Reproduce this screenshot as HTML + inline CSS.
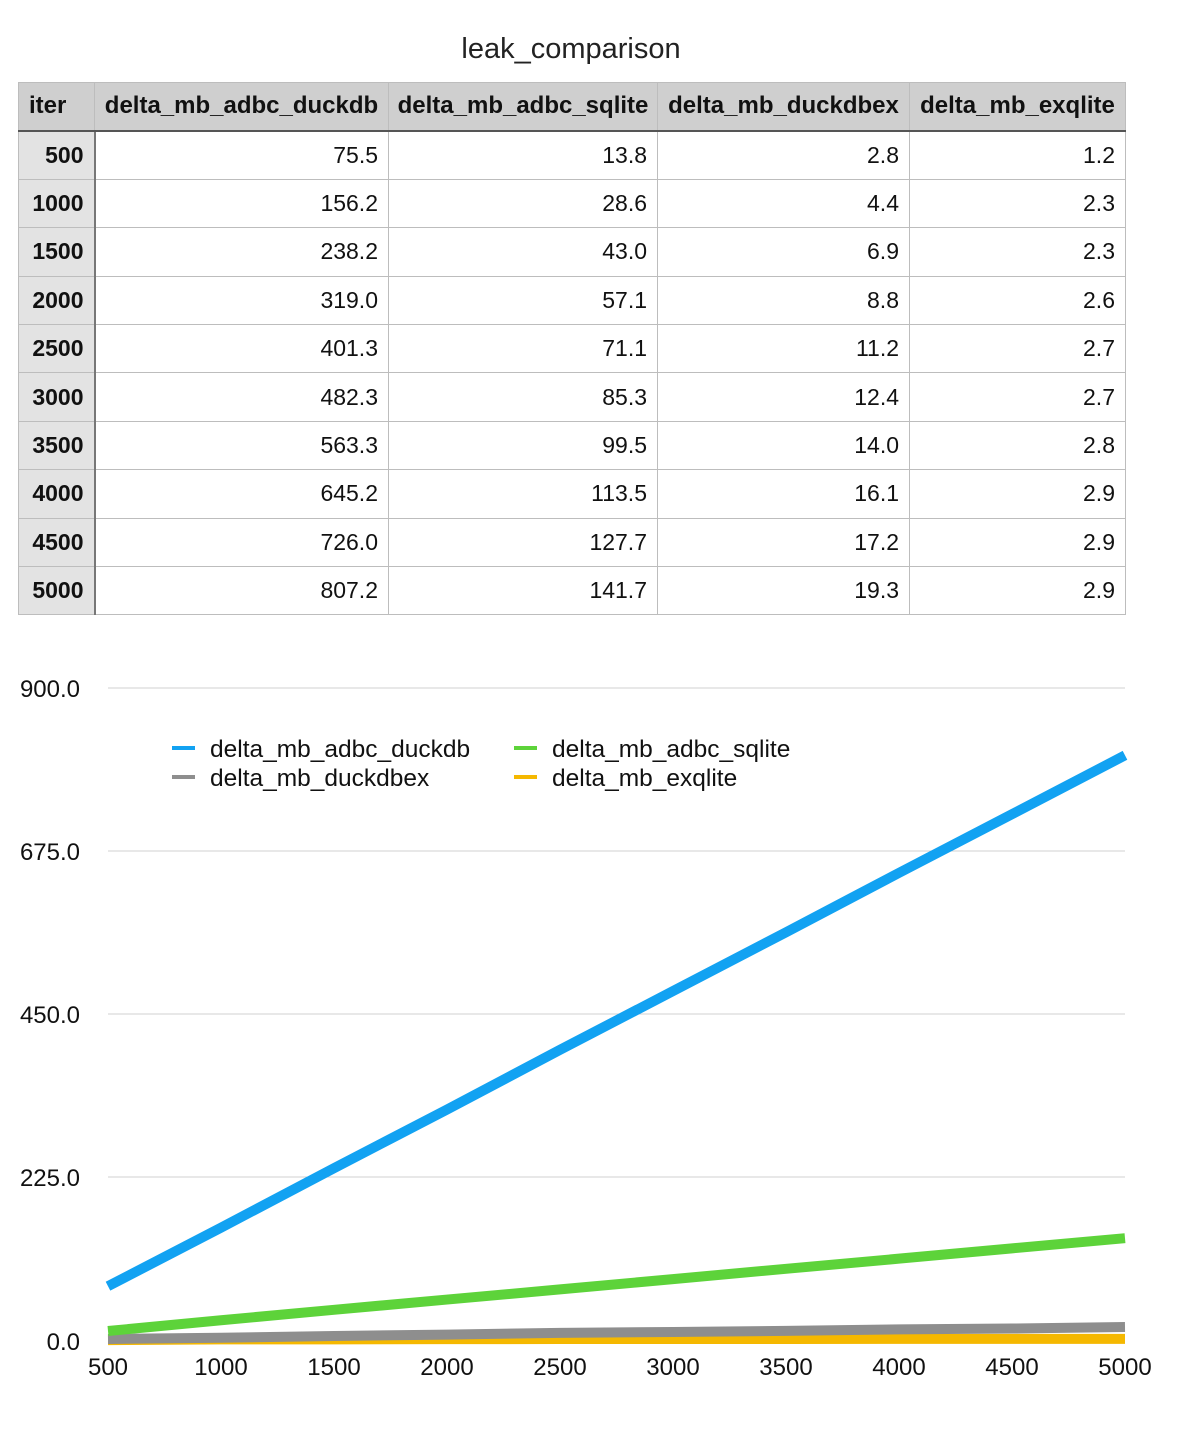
<!DOCTYPE html>
<html><head><meta charset="utf-8"><style>
body{margin:0;width:1200px;height:1437px;background:#fff;font-family:"Liberation Sans",Arial,sans-serif;position:relative;overflow:hidden}
.title{position:absolute;top:33px;left:0;width:1142px;text-align:center;font-size:29px;color:#222}
table{position:absolute;left:18px;top:82px;border-collapse:collapse;font-size:23px;color:#111;table-layout:fixed}
td,th{border:1px solid #bdbdbd;height:48.4px;padding:0 10px;text-align:right;box-sizing:border-box;white-space:nowrap}
th{background:#cfcfcf;font-weight:bold;text-align:center;border-bottom:2px solid #555;font-size:24px;padding:0 4px}
th:first-child{text-align:left;padding-left:10px}
td:first-child{background:#e3e3e3;font-weight:bold;border-right:2px solid #777}
</style></head><body>
<div class="title">leak_comparison</div>
<table>
<colgroup><col style="width:76px"><col style="width:294px"><col style="width:269px"><col style="width:252px"><col style="width:216px"></colgroup>
<tr><th>iter</th><th>delta_mb_adbc_duckdb</th><th>delta_mb_adbc_sqlite</th><th>delta_mb_duckdbex</th><th>delta_mb_exqlite</th></tr>
<tr><td>500</td><td>75.5</td><td>13.8</td><td>2.8</td><td>1.2</td></tr>
<tr><td>1000</td><td>156.2</td><td>28.6</td><td>4.4</td><td>2.3</td></tr>
<tr><td>1500</td><td>238.2</td><td>43.0</td><td>6.9</td><td>2.3</td></tr>
<tr><td>2000</td><td>319.0</td><td>57.1</td><td>8.8</td><td>2.6</td></tr>
<tr><td>2500</td><td>401.3</td><td>71.1</td><td>11.2</td><td>2.7</td></tr>
<tr><td>3000</td><td>482.3</td><td>85.3</td><td>12.4</td><td>2.7</td></tr>
<tr><td>3500</td><td>563.3</td><td>99.5</td><td>14.0</td><td>2.8</td></tr>
<tr><td>4000</td><td>645.2</td><td>113.5</td><td>16.1</td><td>2.9</td></tr>
<tr><td>4500</td><td>726.0</td><td>127.7</td><td>17.2</td><td>2.9</td></tr>
<tr><td>5000</td><td>807.2</td><td>141.7</td><td>19.3</td><td>2.9</td></tr>
</table>
<svg width="1200" height="1437" style="position:absolute;left:0;top:0" font-family="Liberation Sans, Arial, sans-serif" font-size="24" fill="#111">
<g stroke="#d0d0d0" stroke-width="1">
<line x1="108" x2="1125" y1="688" y2="688"/><line x1="108" x2="1125" y1="851" y2="851"/><line x1="108" x2="1125" y1="1014" y2="1014"/><line x1="108" x2="1125" y1="1177" y2="1177"/><line x1="108" x2="1125" y1="1341" y2="1341"/>
</g>
<g text-anchor="end"><text x="80" y="697">900.0</text><text x="80" y="860">675.0</text><text x="80" y="1023">450.0</text><text x="80" y="1186">225.0</text><text x="80" y="1350">0.0</text></g>
<g text-anchor="middle"><text x="108" y="1375">500</text><text x="221" y="1375">1000</text><text x="334" y="1375">1500</text><text x="447" y="1375">2000</text><text x="560" y="1375">2500</text><text x="673" y="1375">3000</text><text x="786" y="1375">3500</text><text x="899" y="1375">4000</text><text x="1012" y="1375">4500</text><text x="1125" y="1375">5000</text></g>
<g transform="translate(108,1341) scale(0.226,-0.72556)" fill="none" stroke-width="10" stroke-linejoin="round">
<polyline vector-effect="non-scaling-stroke" stroke="#f5b800" points="0,1.2 500,2.3 1000,2.3 1500,2.6 2000,2.7 2500,2.7 3000,2.8 3500,2.9 4000,2.9 4500,2.9"/>
<polyline vector-effect="non-scaling-stroke" stroke="#8e8e8e" points="0,2.8 500,4.4 1000,6.9 1500,8.8 2000,11.2 2500,12.4 3000,14 3500,16.1 4000,17.2 4500,19.3"/>
<polyline vector-effect="non-scaling-stroke" stroke="#5dd33a" points="0,13.8 500,28.6 1000,43 1500,57.1 2000,71.1 2500,85.3 3000,99.5 3500,113.5 4000,127.7 4500,141.7"/>
<polyline vector-effect="non-scaling-stroke" stroke="#12a2f2" points="0,75.5 500,156.2 1000,238.2 1500,319 2000,401.3 2500,482.3 3000,563.3 3500,645.2 4000,726 4500,807.2"/>
</g>
<g stroke-width="4">
<line x1="172" x2="195" y1="748" y2="748" stroke="#12a2f2"/><line x1="172" x2="195" y1="777" y2="777" stroke="#8e8e8e"/>
<line x1="514" x2="537" y1="748" y2="748" stroke="#5dd33a"/><line x1="514" x2="537" y1="777" y2="777" stroke="#f5b800"/>
</g>
<g font-size="24.5">
<text x="210" y="757">delta_mb_adbc_duckdb</text><text x="210" y="786">delta_mb_duckdbex</text>
<text x="552" y="757">delta_mb_adbc_sqlite</text><text x="552" y="786">delta_mb_exqlite</text>
</g>
</svg>
</body></html>
